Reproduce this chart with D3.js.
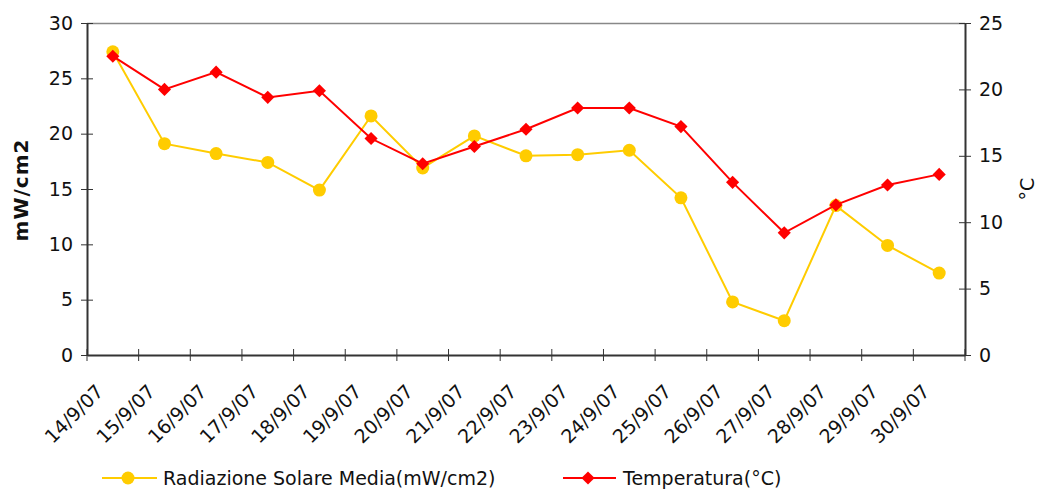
<!DOCTYPE html>
<html>
<head>
<meta charset="utf-8">
<script src="https://cdn.jsdelivr.net/npm/d3@7"></script>
<style>
  body { margin: 0; background: #fff; }
  text { font-family: "DejaVu Sans", Verdana, sans-serif; fill: #111; }
</style>
</head>
<body>
<div id="chart"></div>
<script>
// chart data
var dates = ['14/9/07', '15/9/07', '16/9/07', '17/9/07', '18/9/07', '19/9/07', '20/9/07', '21/9/07',
             '22/9/07', '23/9/07', '24/9/07', '25/9/07', '26/9/07', '27/9/07', '28/9/07', '29/9/07', '30/9/07'];
var radiazione = [27.4, 19.1, 18.2, 17.4, 14.9, 21.6, 16.9, 19.8, 18.0, 18.1, 18.5, 14.2, 4.8, 3.1, 13.5, 9.9, 7.4];
var temperatura = [22.5, 20.0, 21.3, 19.4, 19.9, 16.3, 14.4, 15.7, 17.0, 18.6, 18.6, 17.2, 13.0, 9.2, 11.3, 12.8, 13.6];
var leftTicks = [0, 5, 10, 15, 20, 25, 30];
var rightTicks = [0, 5, 10, 15, 20, 25];

var W = 1037, H = 492;
var margin = { top: 23, right: 72, bottom: 137, left: 87 };
var width = W - margin.left - margin.right,
    height = H - margin.top - margin.bottom;

var svg = d3.select('#chart').append('svg')
  .attr('width', W).attr('height', H);
var g = svg.append('g')
  .attr('transform', 'translate(' + margin.left + ',' + margin.top + ')');

var x = d3.scaleBand().domain(dates).range([0, width]);
var yL = d3.scaleLinear().domain([0, 30]).range([height, 0]);
var yR = d3.scaleLinear().domain([0, 25]).range([height, 0]);
var cx = function(d, i) { return x(dates[i]) + x.bandwidth() / 2; };

// top frame line
g.append('line').attr('x1', 0).attr('x2', width).attr('y1', 0.5).attr('y2', 0.5)
  .attr('stroke', '#888').attr('stroke-width', 1.5);

// left axis
var axL = g.append('g')
  .call(d3.axisLeft(yL).tickValues(leftTicks).tickSizeInner(6).tickSizeOuter(0).tickPadding(8));
axL.selectAll('.tick line').attr('x2', 6).attr('x1', -6);
axL.selectAll('text').style('font-size', '19px');

// right axis
var axR = g.append('g').attr('transform', 'translate(' + width + ',0)')
  .call(d3.axisRight(yR).tickValues(rightTicks).tickSizeInner(6).tickSizeOuter(0).tickPadding(8));
axR.selectAll('.tick line').attr('x1', -6).attr('x2', 6);
axR.selectAll('text').style('font-size', '19px');

g.selectAll('g').attr('font-family', null);

// bottom axis: ticks at category boundaries
var axB = g.append('g').attr('transform', 'translate(0,' + height + ')')
  .call(d3.axisBottom(x).tickSize(0).tickPadding(0));
axB.attr('font-family', null);
axB.selectAll('.tick text').remove();
var bounds = d3.range(dates.length + 1);
axB.selectAll('.bt').data(bounds).enter().append('line')
  .attr('x1', function(d) { return d * x.step(); })
  .attr('x2', function(d) { return d * x.step(); })
  .attr('y1', -6).attr('y2', 6)
  .attr('stroke', '#333');
axB.selectAll('.xl').data(dates).enter().append('text')
  .attr('transform', function(d) {
    return 'translate(' + (x(d) + x.bandwidth() / 2 - 13) + ',33) rotate(-45)';
  })
  .attr('text-anchor', 'end')
  .attr('dy', '0.35em')
  .style('font-size', '19px')
  .text(function(d) { return d; });

g.selectAll('.domain').attr('stroke', '#333').attr('stroke-width', 2);
g.selectAll('.tick line').attr('stroke', '#333');

// axis titles
svg.append('text')
  .attr('transform', 'translate(28,' + (margin.top + height / 2 + 1) + ') rotate(-90)')
  .attr('text-anchor', 'middle')
  .style('font-size', '20px').style('font-weight', 'bold')
  .style('letter-spacing', '1px')
  .text('mW/cm2');
svg.append('text')
  .attr('transform', 'translate(1034,' + (margin.top + height / 2) + ') rotate(-90)')
  .attr('text-anchor', 'middle')
  .style('font-size', '19px')
  .text('°C');

// lines
var lineL = d3.line().x(cx).y(function(d) { return yL(d); });
var lineR = d3.line().x(cx).y(function(d) { return yR(d); });

g.append('path').datum(radiazione).attr('d', lineL)
  .attr('fill', 'none').attr('stroke', '#FFCC00').attr('stroke-width', 2);
g.selectAll('.dotL').data(radiazione).enter().append('circle')
  .attr('cx', cx).attr('cy', function(d) { return yL(d); })
  .attr('r', 6.5).attr('fill', '#FFCC00');

g.append('path').datum(temperatura).attr('d', lineR)
  .attr('fill', 'none').attr('stroke', '#FF0000').attr('stroke-width', 2);
var diamond = d3.symbol().type(d3.symbolDiamond2).size(110);
g.selectAll('.dotR').data(temperatura).enter().append('path')
  .attr('d', diamond)
  .attr('transform', function(d, i) { return 'translate(' + cx(d, i) + ',' + yR(d) + ')'; })
  .attr('fill', '#FF0000');

// legend
var leg = svg.append('g').attr('transform', 'translate(0,478)');
leg.append('line').attr('x1', 102).attr('x2', 157).attr('stroke', '#FFCC00').attr('stroke-width', 2);
leg.append('circle').attr('cx', 128).attr('r', 6.5).attr('fill', '#FFCC00');
leg.append('text').attr('x', 163).attr('dy', '0.36em').style('font-size', '19px')
  .text('Radiazione Solare Media(mW/cm2)');
leg.append('line').attr('x1', 563).attr('x2', 616).attr('stroke', '#FF0000').attr('stroke-width', 2);
leg.append('path').attr('d', diamond).attr('transform', 'translate(588,0)').attr('fill', '#FF0000');
leg.append('text').attr('x', 623).attr('dy', '0.36em').style('font-size', '19px')
  .text('Temperatura(°C)');
</script>
</body>
</html>
